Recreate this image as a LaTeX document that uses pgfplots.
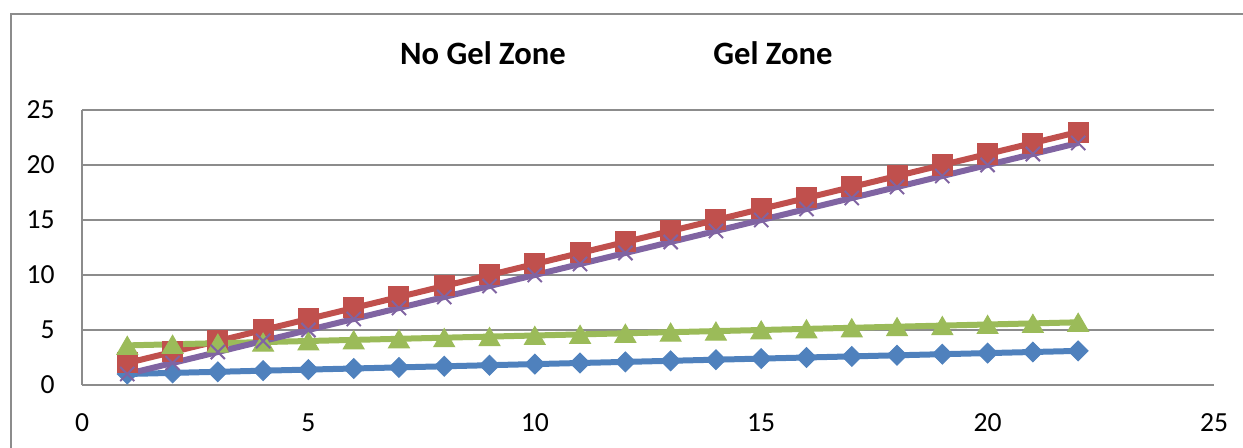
\documentclass[border=0pt]{standalone}
\usepackage{pgfplots}
\pgfplotsset{compat=1.18}
\usepackage{fontspec}
\setmainfont{Carlito}
\definecolor{sblue}{HTML}{4F81BD}
\definecolor{sred}{HTML}{C0504D}
\definecolor{sgreen}{HTML}{9BBB59}
\definecolor{spurple}{HTML}{8064A2}
\definecolor{gridgray}{HTML}{8C8C8C}
\begin{document}
\begin{tikzpicture}
\useasboundingbox (0,0) rectangle (621.5pt,-224pt);
\draw[gridgray, line width=1pt] (5.5pt,-240pt) -- (5.5pt,-7pt) -- (640pt,-7pt);
\begin{axis}[
  at={(41pt,-192.5pt)}, anchor=south west,
  scale only axis, width=566pt, height=137.5pt,
  xmin=0, xmax=25, ymin=0, ymax=25,
  xtick={0,5,...,25}, ytick={0,5,...,25},
  axis x line*=bottom, axis y line*=left,
  axis line style={-, draw=gridgray, line width=1pt},
  ymajorgrids, grid style={draw=gridgray, line width=1pt},
  major tick length=0pt,
  /pgf/number format/assume math mode=true,
  ticklabel style={font=\fontsize{13.8}{16}\selectfont, inner sep=0pt},
  yticklabel style={anchor=east, xshift=-13.5pt},
  xticklabel style={anchor=north, yshift=-14pt},
]
\addplot[sblue, line width=3pt, mark=square*, mark size=3.5pt,
  mark options={solid, rotate=45, line width=0.5pt, fill=sblue}] coordinates {
(1,1.0)(2,1.1)(3,1.2)(4,1.3)(5,1.4)(6,1.5)(7,1.6)(8,1.7)(9,1.8)(10,1.9)(11,2.0)
(12,2.1)(13,2.2)(14,2.3)(15,2.4)(16,2.5)(17,2.6)(18,2.7)(19,2.8)(20,2.9)(21,3.0)(22,3.1)};
\addplot[sred, line width=3pt, mark=square*, mark size=5pt,
  mark options={solid, line width=0.5pt, fill=sred}] coordinates {
(1,2)(2,3)(3,4)(4,5)(5,6)(6,7)(7,8)(8,9)(9,10)(10,11)(11,12)
(12,13)(13,14)(14,15)(15,16)(16,17)(17,18)(18,19)(19,20)(20,21)(21,22)(22,23)};
\addplot[sgreen, line width=3pt, mark=triangle*, mark size=6pt,
  mark options={solid, line width=0.5pt, fill=sgreen, yshift=-1.5pt}] coordinates {
(1,3.6)(2,3.7)(3,3.8)(4,3.9)(5,4.0)(6,4.1)(7,4.2)(8,4.3)(9,4.4)(10,4.5)(11,4.6)
(12,4.7)(13,4.8)(14,4.9)(15,5.0)(16,5.1)(17,5.2)(18,5.3)(19,5.4)(20,5.5)(21,5.6)(22,5.7)};
\addplot[spurple, line width=3pt, mark=x, mark size=5pt,
  mark options={solid, line width=1pt}] coordinates {
(1,1)(2,2)(3,3)(4,4)(5,5)(6,6)(7,7)(8,8)(9,9)(10,10)(11,11)
(12,12)(13,13)(14,14)(15,15)(16,16)(17,17)(18,18)(19,19)(20,20)(21,21)(22,22)};
\end{axis}
\node[font=\bfseries\fontsize{16.3}{19}\selectfont, anchor=base] at (241.5pt,-32.5pt) {No Gel Zone};
\node[font=\bfseries\fontsize{16.3}{19}\selectfont, anchor=base] at (386.5pt,-32.5pt) {Gel Zone};
\end{tikzpicture}
\end{document}
